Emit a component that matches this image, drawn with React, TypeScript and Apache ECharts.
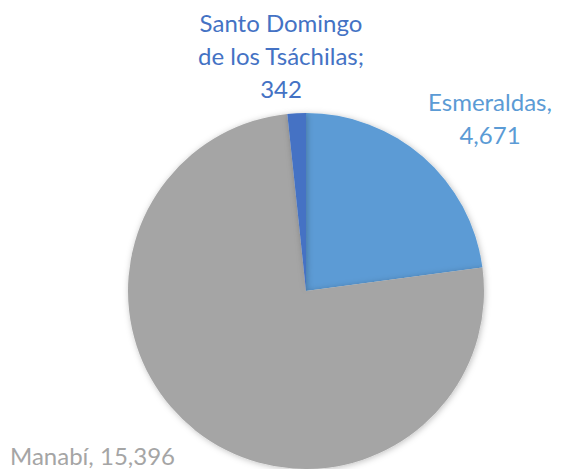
import React, { useEffect, useRef } from "react";
import * as echarts from "echarts";

const categories = ["Esmeraldas", "Manabí", "Santo Domingo\nde los Tsáchilas"];
const values = [4671, 15396, 342];
const separators = [",\n", ", ", ";\n"];
const colors = ["#5B9BD5", "#A5A5A5", "#4472C4"];
const labelAnchors = [
  { x: 490, y: 118, align: "center" },
  { x: 10, y: 455, align: "left" },
  { x: 281, y: 55, align: "center" },
];

const fmt = (v: number) => v.toLocaleString("en-US");

export default function App() {
  const ref = useRef<HTMLDivElement>(null);
  useEffect(() => {
    if (!ref.current) return;
    const chart = echarts.init(ref.current, undefined, { renderer: "svg" });
    chart.setOption({
      animation: false,
      backgroundColor: "#ffffff",
      series: [
        {
          type: "pie",
          center: [306, 291],
          radius: 178,
          startAngle: 90,
          clockwise: true,
          avoidLabelOverlap: false,
          data: categories.map((name, i) => ({
            name,
            value: values[i],
            itemStyle: { color: colors[i] },
            label: {
              color: colors[i],
              align: labelAnchors[i].align,
              formatter: () => `${name}${separators[i]}${fmt(values[i])}`,
            },
          })),
          itemStyle: {
            borderWidth: 0,
            shadowBlur: 6,
            shadowColor: "rgba(0,0,0,0.25)",
            shadowOffsetX: 1,
            shadowOffsetY: 1,
          },
          label: {
            show: true,
            position: "outside",
            fontFamily: "Lato",
            fontWeight: "normal",
            fontSize: 24,
            lineHeight: 33,
          },
          labelLine: { show: false },
          labelLayout: (params: any) => {
            const a = labelAnchors[params.dataIndex];
            return { x: a.x, y: a.y, align: a.align, verticalAlign: "middle" };
          },
        },
      ],
    });
    return () => chart.dispose();
  }, []);
  return (
    <div
      ref={ref}
      style={{ position: "fixed", left: 0, top: 0, width: 569, height: 469 }}
    />
  );
}
